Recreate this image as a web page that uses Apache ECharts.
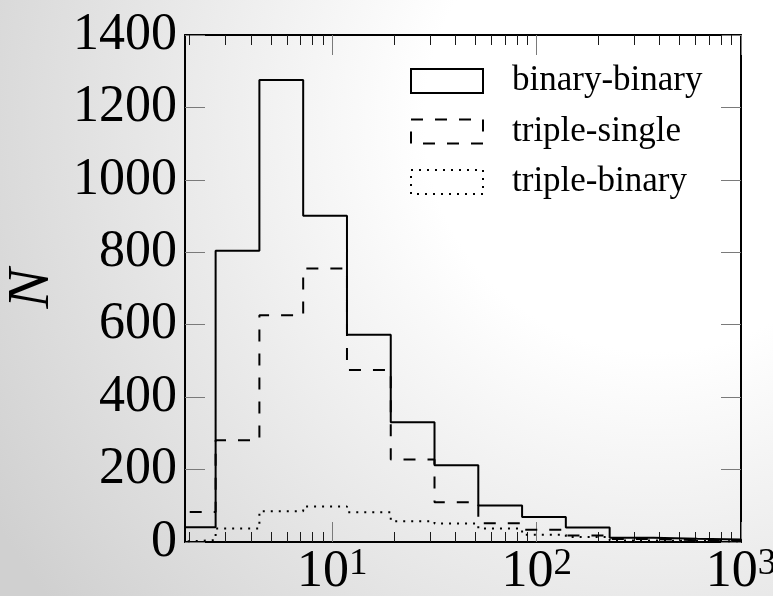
<!DOCTYPE html>
<html>
<head>
<meta charset="utf-8">
<script src="https://cdn.jsdelivr.net/npm/echarts@6/dist/echarts.min.js"></script>
<style>
  html, body { margin: 0; padding: 0; background: #fff; }
  #chart { width: 773px; height: 596px; }
</style>
</head>
<body>
<div id="chart"></div>
<script>
// Logarithmic bin edges shared by the three histograms
const binEdges = [1.637, 2.683, 4.394, 7.197, 11.79, 19.31, 31.62, 51.79, 84.83, 138.9, 227.6, 372.8, 610.5, 1000];

// Counts per bin
const binaryBinary = [41, 804, 1276, 901, 572, 331, 212, 101, 69, 40, 12, 9, 7];
const tripleSingle = [83, 281, 626, 755, 475, 228, 110, 52, 34, 18, 8, 5, 3];
const tripleBinary = [5, 37, 85, 98, 82, 57, 51, 37, 20, 14, 4, 3, 2];

const seriesNames = ['binary-binary', 'triple-single', 'triple-binary'];

// Axis ranges and tick positions
const xMin = 1.9;
const xMax = 1000;
const xMajorTicks = [10, 100, 1000];
const xMinorTicks = [2, 3, 4, 5, 6, 7, 8, 9, 20, 30, 40, 50, 60, 70, 80, 90, 200, 300, 400, 500, 600, 700, 800, 900];
const yMin = 0;
const yMax = 1400;
const yStep = 200;

const SERIF = '"Liberation Serif", "DejaVu Serif", serif';
const dashPatterns = ['solid', [12, 12], [2, 6]];

// Outline of a step histogram: rise at the first edge, one level per bin, drop at the last edge
function stepOutline(counts) {
  const pts = [[binEdges[0], 0]];
  counts.forEach((c, i) => pts.push([binEdges[i], c]));
  const last = binEdges[binEdges.length - 1];
  pts.push([last, counts[counts.length - 1]]);
  pts.push([last, 0]);
  return pts;
}

function xAxisBase(position) {
  return {
    type: 'log', logBase: 10, min: xMin, max: xMax, position: position,
    axisLine: { show: false, onZero: false },
    splitLine: { show: false },
    axisLabel: { show: false },
    axisTick: { show: false }
  };
}

const majorTickStyle = { color: '#7a7a7a', width: 1 };
const minorTickStyle = { color: '#1a1a1a', width: 1 };

const xAxes = [
  Object.assign(xAxisBase('bottom'), {
    axisLine: { show: true, onZero: false, lineStyle: { color: '#000', width: 2 } },
    axisTick: { show: true, inside: true, length: 20, customValues: xMajorTicks, lineStyle: majorTickStyle },
    axisLabel: {
      show: true, customValues: xMajorTicks, margin: 4,
      formatter: v => '{m|10}{s|' + Math.round(Math.log10(v)) + '}',
      rich: {
        m: { fontFamily: SERIF, fontSize: 52, lineHeight: 52, color: '#000' },
        s: { fontFamily: SERIF, fontSize: 37, lineHeight: 20, verticalAlign: 'top', color: '#000' }
      }
    }
  }),
  Object.assign(xAxisBase('bottom'), {
    axisTick: { show: true, inside: true, length: 10, customValues: xMinorTicks, lineStyle: minorTickStyle }
  }),
  Object.assign(xAxisBase('top'), {
    axisLine: { show: true, onZero: false, lineStyle: { color: '#000', width: 2 } },
    axisTick: { show: true, inside: true, length: 20, customValues: xMajorTicks, lineStyle: majorTickStyle }
  }),
  Object.assign(xAxisBase('top'), {
    axisTick: { show: true, inside: true, length: 10, customValues: xMinorTicks, lineStyle: minorTickStyle }
  })
];

const yAxes = [
  {
    type: 'value', min: yMin, max: yMax, interval: yStep, position: 'left',
    name: 'N', nameLocation: 'middle', nameGap: 103, nameRotate: 90,
    nameTextStyle: { fontFamily: SERIF, fontStyle: 'italic', fontSize: 60, color: '#000' },
    axisLine: { show: true, onZero: false, lineStyle: { color: '#000', width: 2 } },
    axisTick: { show: true, inside: true, length: 20, lineStyle: majorTickStyle },
    axisLabel: { fontFamily: SERIF, fontSize: 52, color: '#000', margin: 8, formatter: v => String(v) },
    splitLine: { show: false }
  },
  {
    type: 'value', min: yMin, max: yMax, interval: yStep, position: 'right',
    axisLine: { show: true, onZero: false, lineStyle: { color: '#000', width: 2 } },
    axisTick: { show: true, inside: true, length: 20, lineStyle: majorTickStyle },
    axisLabel: { show: false },
    splitLine: { show: false }
  }
];

const chart = echarts.init(document.getElementById('chart'), null, { renderer: 'canvas' });

chart.setOption({
  animation: false,
  backgroundColor: new echarts.graphic.RadialGradient(0.85, 0.2, 1.3, [
    { offset: 0, color: '#ffffff' },
    { offset: 0.3, color: '#ffffff' },
    { offset: 1, color: '#d0d0d0' }
  ]),
  grid: { left: 185, right: 32, top: 35, bottom: 54, containLabel: false, outerBoundsMode: 'none' },
  xAxis: xAxes,
  yAxis: yAxes,
  legend: {
    orient: 'vertical', left: 410, top: 63.5, padding: 0,
    itemWidth: 72, itemHeight: 24, itemGap: 15.5,
    textStyle: { fontFamily: SERIF, fontSize: 35, lineHeight: 24, color: '#000', padding: [0, 0, 0, 24] },
    data: seriesNames.map((n, i) => ({
      name: n, icon: 'rect',
      itemStyle: { color: 'rgba(0,0,0,0)', borderColor: '#000', borderWidth: 2, borderType: dashPatterns[i] }
    }))
  },
  series: [binaryBinary, tripleSingle, tripleBinary].map((counts, i) => ({
    name: seriesNames[i],
    type: 'line',
    step: 'end',
    xAxisIndex: 0, yAxisIndex: 0,
    symbol: 'none', showSymbol: false,
    clip: true,
    itemStyle: { color: '#000' },
    lineStyle: { color: '#000', width: 2, type: dashPatterns[i] },
    data: stepOutline(counts)
  }))
});
</script>
</body>
</html>
